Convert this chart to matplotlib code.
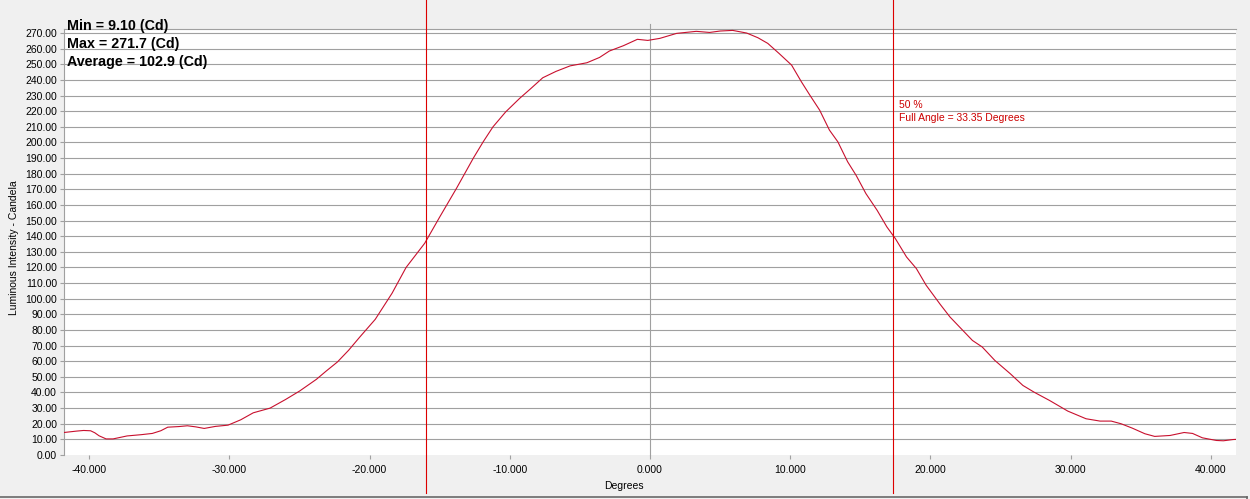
import matplotlib
matplotlib.use("Agg")
import matplotlib.pyplot as plt
from matplotlib.lines import Line2D

degrees = [-41.8, -40.9, -40.4, -39.9, -39.6, -39.3, -38.8, -38.3, -37.3, -36.3, -35.5,
           -34.9, -34.4, -33.6, -33.0, -32.4, -31.8, -31.0, -30.1, -29.2, -28.3, -27.1,
           -26.0, -25.0, -23.8, -23.1, -22.3, -21.5, -20.7, -19.6, -18.4, -17.4, -16.07,
           -15.0, -13.8, -12.6, -11.9, -11.2, -10.3, -9.3, -8.5, -7.65, -6.7, -5.7, -4.5,
           -3.6, -2.9, -1.9, -0.9, -0.16, 0.7, 1.9, 3.3, 4.25, 5.0, 5.9, 6.9, 7.7, 8.4,
           9.2, 10.1, 10.8, 11.4, 12.1, 12.8, 13.4, 14.1, 14.7, 15.4, 16.2, 16.9, 17.5,
           18.3, 19.0, 19.7, 20.7, 21.4, 22.2, 23.0, 23.7, 24.6, 25.7, 26.6, 27.4, 28.5,
           29.8, 31.1, 32.1, 32.9, 33.6, 34.4, 35.3, 36.0, 37.1, 38.1, 38.7, 39.4, 40.4,
           40.9, 41.6, 41.8]
candela = [14.4, 15.3, 15.7, 15.5, 14.2, 12.3, 10.3, 10.3, 12.2, 13.0, 13.8,
           15.5, 17.8, 18.2, 18.7, 18.0, 17.0, 18.3, 19.1, 22.5, 27.0, 30.0,
           35.5, 40.9, 48.4, 53.7, 59.5, 67.0, 75.5, 86.8, 103.5, 120.0, 135.5,
           152.3, 170.7, 190.0, 200.4, 210.0, 219.5, 228.2, 234.5, 241.4, 245.5, 249.0, 251.0,
           254.4, 258.5, 261.9, 266.0, 265.3, 266.6, 269.8, 271.1, 270.4, 271.3, 271.7, 270.0,
           267.0, 263.4, 257.0, 249.5, 238.8, 230.3, 220.7, 207.9, 200.4, 187.6, 179.0,
           167.3, 156.6, 145.9, 138.5, 126.7, 119.3, 108.6, 96.4, 88.3, 80.8, 73.3, 69.1,
           60.5, 52.0, 44.5, 40.2, 34.9, 28.1, 23.2, 21.7, 21.7, 20.0, 17.2, 13.6, 11.9,
           12.5, 14.4, 13.8, 11.0, 9.3, 9.1, 9.9, 10.0]

half_angles = [-16.0, 17.35]
x_ticks = [-40, -30, -20, -10, 0, 10, 20, 30, 40]
x_tick_labels = ["-40.000", "-30.000", "-20.000", "-10.000", "0.000",
                 "10.000", "20.000", "30.000", "40.000"]
y_ticks = list(range(0, 280, 10))
y_tick_labels = [f"{v:.2f}" for v in y_ticks]
stats_lines = ["Min = 9.10 (Cd)", "Max = 271.7 (Cd)", "Average = 102.9 (Cd)"]
angle_lines = ["50 %", "Full Angle = 33.35 Degrees"]

W, H = 1250, 499
fig = plt.figure(figsize=(W / 100, H / 100), dpi=100, facecolor="#f0f0f0")
plt.rcParams["font.family"] = ["Liberation Sans", "DejaVu Sans"]

def px(x, y):
    return x / W, 1 - y / H

l, r, t, b = 64, 1236, 29, 455
ax = fig.add_axes([l / W, 1 - b / H, (r - l) / W, (b - t) / H])
ax.set_facecolor("white")
ax.set_xlim(-41.8, 41.8)
ax.set_ylim(0, 272.6)

grid_c = "#a0a0a0"
for v in y_ticks[1:]:
    ax.axhline(v, color=grid_c, lw=0.8, zorder=1)
ax.axvline(0, ymin=0, ymax=1.012, color=grid_c, lw=0.8, zorder=1, clip_on=False)

ax.plot(degrees, candela, color="#c8102e", lw=0.8, zorder=3)

for a in half_angles:
    ax.axvline(a, ymin=-0.089, ymax=1.068, color="#dd0000", lw=0.8, zorder=4, clip_on=False)

for s in ["right", "bottom"]:
    ax.spines[s].set_visible(False)
ax.spines["top"].set_color(grid_c)
ax.spines["top"].set_linewidth(0.8)
ax.spines["left"].set_color(grid_c)
ax.spines["left"].set_linewidth(0.8)

ax.set_xticks(x_ticks)
ax.set_xticklabels(x_tick_labels)
ax.set_yticks(y_ticks)
ax.set_yticklabels(y_tick_labels)
ax.tick_params(axis="both", labelsize=7.5, colors="black", length=3, width=0.8,
               direction="out")
ax.tick_params(axis="both", color=grid_c)
ax.tick_params(axis="x", pad=4)
ax.tick_params(axis="y", pad=2)

fig.text(*px(624, 486), "Degrees", fontsize=7.5, ha="center", va="center")
fig.text(*px(14, 248), "Luminous Intensity - Candela", fontsize=7.5, ha="center",
         va="center", rotation=90)

for i, s in enumerate(stats_lines):
    fig.text(*px(67, 26 + 18 * i), s, fontsize=10.3, fontweight="bold",
             ha="left", va="center", color="black", zorder=10)

fig.text(*px(899, 105.5), angle_lines[0], fontsize=7.5, color="#cc0000",
         ha="left", va="center")
fig.text(*px(899, 118), angle_lines[1], fontsize=7.5, color="#cc0000",
         ha="left", va="center")

fig.add_artist(Line2D([1247 / W, 1247 / W], [0, 1 - 497 / H], color="#696969", lw=1.2,
                      transform=fig.transFigure))
fig.add_artist(Line2D([0, 1247 / W], [1 - 497 / H, 1 - 497 / H], color="#696969", lw=1.2,
                      transform=fig.transFigure))

fig.savefig("out.png", dpi=100, facecolor=fig.get_facecolor())
